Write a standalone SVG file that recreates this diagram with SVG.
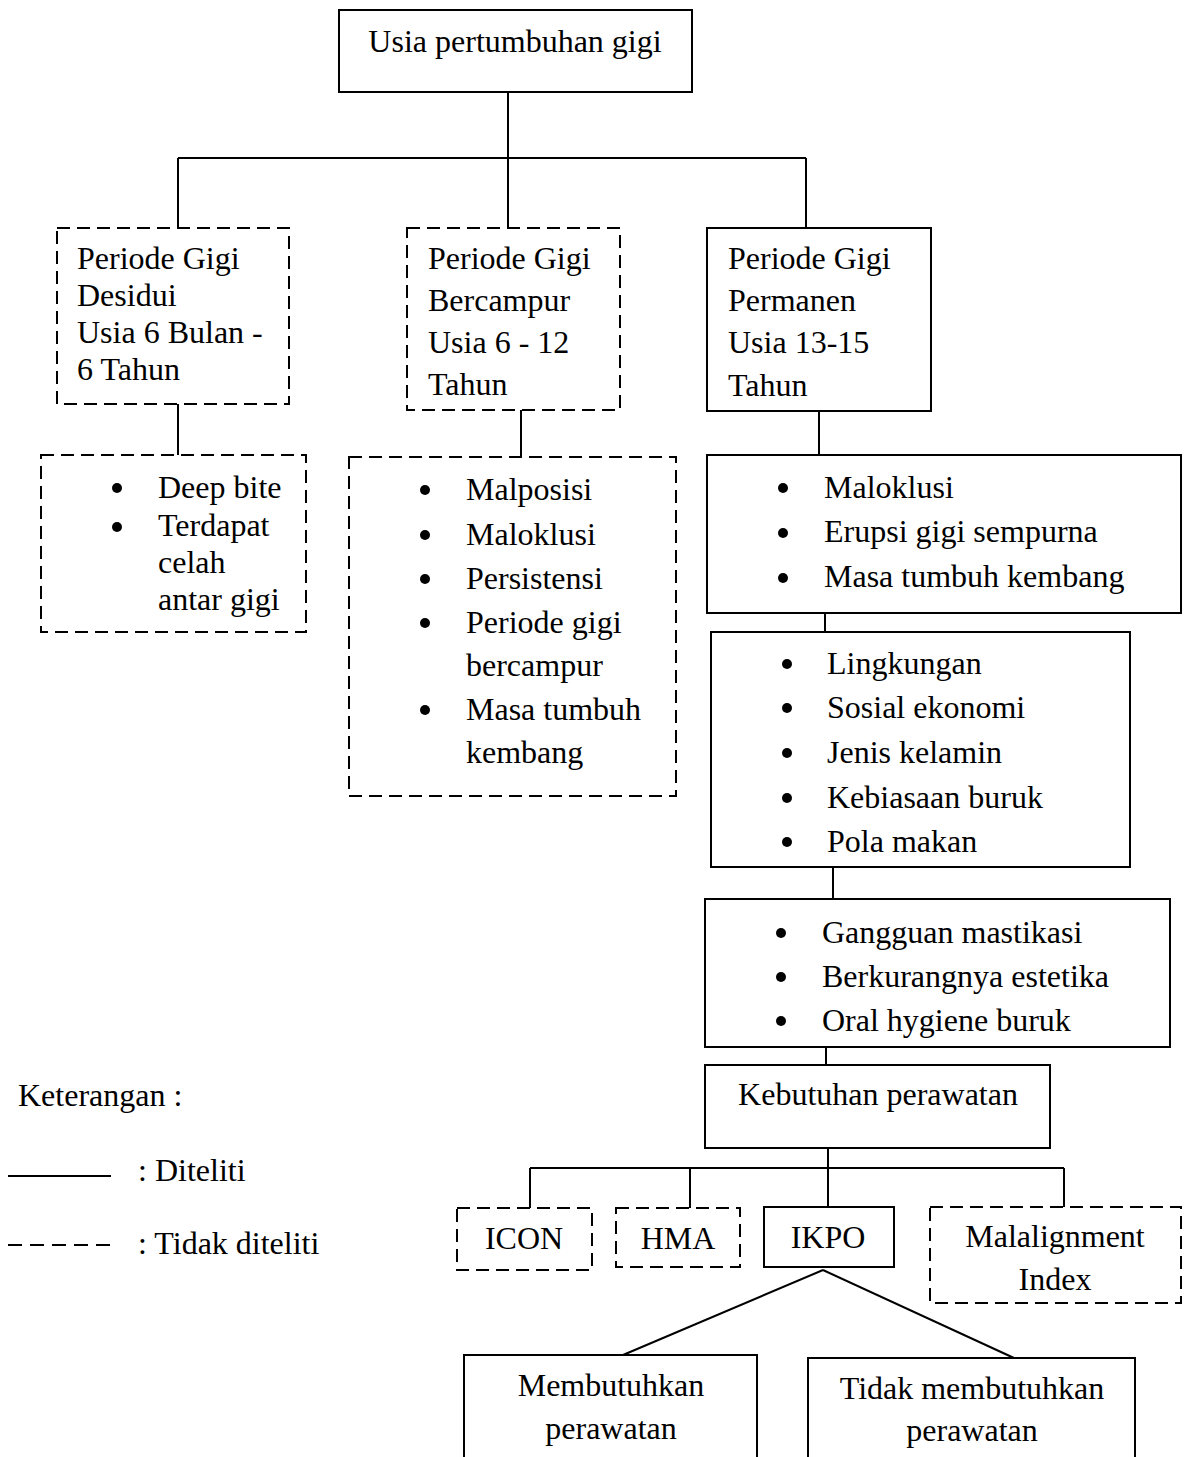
<svg xmlns="http://www.w3.org/2000/svg" width="1190" height="1457" viewBox="0 0 1190 1457">
<style>
text{font-family:"Liberation Serif","Times New Roman",serif;font-size:32px;fill:#000}
.c{text-anchor:middle}
.b{fill:none;stroke:#000;stroke-width:2}
.d{fill:none;stroke:#000;stroke-width:2;stroke-dasharray:13 7}
.l{fill:none;stroke:#000;stroke-width:2}
.dot{fill:#000}
</style>
<rect width="1190" height="1457" fill="#fff"/>
<g id="connectors">
<path class="l" d="M508,92V228M178,158H806M178,158V228M806,158V228"/>
<path class="l" d="M178,404V455M521,410V457M819,411V455M825,613V632M833,867V899M826,1047V1065"/>
<path class="l" d="M828,1148V1207M530,1168H1064M530,1168V1208M690,1168V1208M1064,1168V1207"/>
<path class="l" d="M823,1270L623,1355M823,1270L1014,1358"/>
</g>
<g id="root">
<rect class="b" x="339" y="10" width="353" height="82"/>
<text class="c" x="515" y="52">Usia pertumbuhan gigi</text>
</g>
<g id="desidui">
<rect class="d" x="57" y="228" width="232" height="176"/>
<text x="77" y="269">Periode Gigi</text>
<text x="77" y="306">Desidui</text>
<text x="77" y="343">Usia 6 Bulan -</text>
<text x="77" y="380">6 Tahun</text>
</g>
<g id="bercampur">
<rect class="d" x="407" y="228" width="213" height="182"/>
<text x="428" y="269">Periode Gigi</text>
<text x="428" y="311">Bercampur</text>
<text x="428" y="353">Usia 6 - 12</text>
<text x="428" y="395">Tahun</text>
</g>
<g id="permanen">
<rect class="b" x="707" y="228" width="224" height="183"/>
<text x="728" y="269">Periode Gigi</text>
<text x="728" y="311">Permanen</text>
<text x="728" y="353">Usia 13-15</text>
<text x="728" y="396">Tahun</text>
</g>
<g id="desidui-list">
<rect class="d" x="41" y="455" width="265" height="177"/>
<circle class="dot" cx="117" cy="488" r="5"/>
<circle class="dot" cx="117" cy="527" r="5"/>
<text x="158" y="498">Deep bite</text>
<text x="158" y="536">Terdapat</text>
<text x="158" y="573">celah</text>
<text x="158" y="610">antar gigi</text>
</g>
<g id="bercampur-list">
<rect class="d" x="349" y="457" width="327" height="339"/>
<circle class="dot" cx="425" cy="490" r="5"/>
<circle class="dot" cx="425" cy="535" r="5"/>
<circle class="dot" cx="425" cy="579" r="5"/>
<circle class="dot" cx="425" cy="623" r="5"/>
<circle class="dot" cx="425" cy="710" r="5"/>
<text x="466" y="500">Malposisi</text>
<text x="466" y="545">Maloklusi</text>
<text x="466" y="589">Persistensi</text>
<text x="466" y="633">Periode gigi</text>
<text x="466" y="676">bercampur</text>
<text x="466" y="720">Masa tumbuh</text>
<text x="466" y="763">kembang</text>
</g>
<g id="permanen-list">
<rect class="b" x="707" y="455" width="474" height="158"/>
<circle class="dot" cx="783" cy="488" r="5"/>
<circle class="dot" cx="783" cy="533" r="5"/>
<circle class="dot" cx="783" cy="578" r="5"/>
<text x="824" y="498">Maloklusi</text>
<text x="824" y="542">Erupsi gigi sempurna</text>
<text x="824" y="587">Masa tumbuh kembang</text>
</g>
<g id="faktor">
<rect class="b" x="711" y="632" width="419" height="235"/>
<circle class="dot" cx="787" cy="664" r="5"/>
<circle class="dot" cx="787" cy="708" r="5"/>
<circle class="dot" cx="787" cy="753" r="5"/>
<circle class="dot" cx="787" cy="798" r="5"/>
<circle class="dot" cx="787" cy="842" r="5"/>
<text x="827" y="674">Lingkungan</text>
<text x="827" y="718">Sosial ekonomi</text>
<text x="827" y="763">Jenis kelamin</text>
<text x="827" y="808">Kebiasaan buruk</text>
<text x="827" y="852">Pola makan</text>
</g>
<g id="dampak">
<rect class="b" x="705" y="899" width="465" height="148"/>
<circle class="dot" cx="781" cy="933" r="5"/>
<circle class="dot" cx="781" cy="977" r="5"/>
<circle class="dot" cx="781" cy="1021" r="5"/>
<text x="822" y="943">Gangguan mastikasi</text>
<text x="822" y="987">Berkurangnya estetika</text>
<text x="822" y="1031">Oral hygiene buruk</text>
</g>
<g id="kebutuhan">
<rect class="b" x="705" y="1065" width="345" height="83"/>
<text class="c" x="878" y="1105">Kebutuhan perawatan</text>
</g>
<g id="icon">
<rect class="d" x="457" y="1208" width="135" height="62"/>
<text class="c" x="524" y="1249">ICON</text>
</g>
<g id="hma">
<rect class="d" x="616" y="1208" width="124" height="59"/>
<text class="c" x="678" y="1249">HMA</text>
</g>
<g id="ikpo">
<rect class="b" x="764" y="1207" width="130" height="60"/>
<text class="c" x="828" y="1248">IKPO</text>
</g>
<g id="malalignment">
<rect class="d" x="930" y="1207" width="251" height="96"/>
<text class="c" x="1055" y="1247">Malalignment</text>
<text class="c" x="1055" y="1290">Index</text>
</g>
<g id="membutuhkan">
<path class="b" d="M464,1457V1355H757V1457"/>
<text class="c" x="611" y="1396">Membutuhkan</text>
<text class="c" x="611" y="1439">perawatan</text>
</g>
<g id="tidak">
<path class="b" d="M808,1457V1358H1135V1457"/>
<text class="c" x="972" y="1399">Tidak membutuhkan</text>
<text class="c" x="972" y="1441">perawatan</text>
</g>
<g id="legend">
<text x="18" y="1106">Keterangan :</text>
<line class="l" x1="8" y1="1176" x2="111" y2="1176"/>
<text x="138" y="1181">: Diteliti</text>
<line class="l" x1="8" y1="1245" x2="111" y2="1245" stroke-dasharray="14 8"/>
<text x="138" y="1254">: Tidak diteliti</text>
</g>
</svg>
